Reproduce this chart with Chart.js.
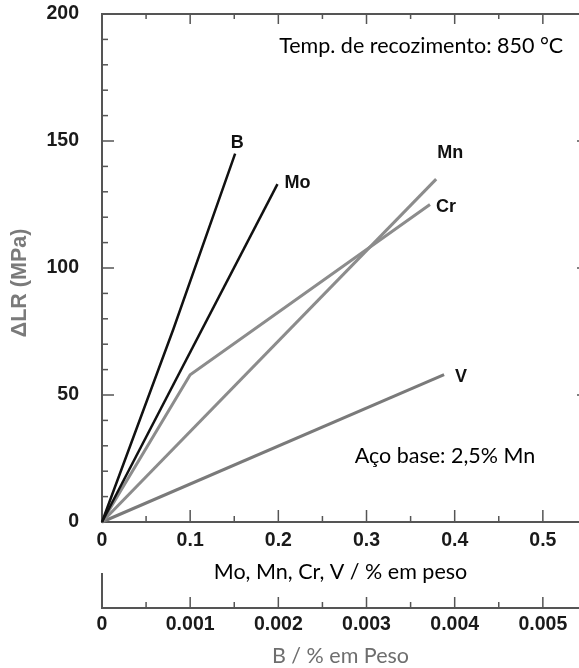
<!DOCTYPE html>
<html lang="pt">

<head>
    <meta charset="UTF-8" />
    <title>ΔLR vs teor de elemento</title>
    <script src="https://cdn.jsdelivr.net/npm/chart.js"></script>
    <style>
        html, body { margin: 0; padding: 0; background: #fff; }
        canvas { display: block; }
    </style>
</head>

<body>
    <canvas id="chart" width="579" height="668"></canvas>

    <script>
        // values
        const yTicks = [0, 50, 100, 150, 200];
        const xTicks = [0, 0.1, 0.2, 0.3, 0.4, 0.5];
        const bTicks = [0, 0.001, 0.002, 0.003, 0.004, 0.005];

        const bX = [0, 0.00081, 0.00151];
        const bY = [0, 76, 145];
        const moX = [0, 0.199];
        const moY = [0, 133];
        const mnX = [0, 0.379];
        const mnY = [0, 135];
        const crX = [0, 0.1, 0.372];
        const crY = [0, 58, 125];
        const vX = [0, 0.388];
        const vY = [0, 58];

        const tickFont = { family: 'Liberation Sans', size: 19.5, weight: 'bold' };
        const textFont = '21.5px Lato';
        const axisColor = '#555';

        const pts = (xs, ys) => xs.map((x, i) => ({ x: x, y: ys[i] }));

        // label offsets from the end of each line, in px
        const labelOffset = {
            B: [2, -11], Mo: [20, -1], Mn: [14, -26], Cr: [16, 3], V: [17, 2]
        };

        const noPadY = s => { s.paddingTop = 0; s.paddingBottom = 0; };
        const noPadX = s => { s.paddingLeft = 0; s.paddingRight = 0; };

        const framePlugin = {
            id: 'frame',
            beforeDatasetsDraw(chart) {
                const { ctx, chartArea: a, scales } = chart;
                const x = scales.x, y = scales.y, x2 = scales.x2;
                ctx.save();
                ctx.strokeStyle = axisColor;
                ctx.lineWidth = 2;
                // top border
                ctx.beginPath();
                ctx.moveTo(a.left, a.top);
                ctx.lineTo(chart.width, a.top);
                ctx.stroke();
                // small stub at the start of the lower axis
                ctx.beginPath();
                ctx.moveTo(a.left, x2.top);
                ctx.lineTo(a.left, x2.top - 35);
                ctx.stroke();

                ctx.lineWidth = 1.5;
                const line = (x0, y0, x1, y1) => {
                    ctx.beginPath(); ctx.moveTo(x0, y0); ctx.lineTo(x1, y1); ctx.stroke();
                };
                // y ticks, pointing inwards, minor every 10
                for (let v = 10; v < 200; v += 10) {
                    const p = y.getPixelForValue(v);
                    const len = v % 50 === 0 ? 12 : 6;
                    line(a.left, p, a.left + len, p);
                    if (v % 50 === 0) line(a.right, p, a.right - 2, p);
                }
                // x ticks on bottom and top, minor every 0.05
                for (let i = 1; i <= 10; i++) {
                    const p = x.getPixelForValue(i * 0.05);
                    const len = i % 2 === 0 ? 12 : 6;
                    line(p, a.bottom, p, a.bottom - len);
                    line(p, a.top, p, a.top + (i % 2 === 0 ? 10 : 5));
                }
                // B axis ticks
                for (let i = 1; i <= 10; i++) {
                    const p = x2.getPixelForValue(i * 0.0005);
                    const len = i % 2 === 0 ? 11 : 6;
                    line(p, x2.top, p, x2.top - len);
                }
                ctx.restore();
            },
            afterDatasetsDraw(chart) {
                const { ctx, scales } = chart;
                const x = scales.x, y = scales.y;
                ctx.save();
                ctx.textBaseline = 'middle';
                ctx.textAlign = 'center';
                ctx.fillStyle = '#111';
                ctx.font = 'bold 18px "Liberation Sans"';
                chart.data.datasets.forEach((ds, i) => {
                    const meta = chart.getDatasetMeta(i);
                    const last = meta.data[meta.data.length - 1];
                    const off = labelOffset[ds.label];
                    ctx.fillText(ds.label, last.x + off[0], last.y + off[1]);
                });
                ctx.font = textFont;
                ctx.fillStyle = '#000';
                ctx.fillText('Temp. de recozimento: 850 °C', x.getPixelForValue(0.362), y.getPixelForValue(187.5));
                ctx.fillText('Aço base: 2,5% Mn', x.getPixelForValue(0.389), y.getPixelForValue(26));
                ctx.restore();
            }
        };

        new Chart(document.getElementById('chart'), {
            type: 'line',
            data: {
                datasets: [
                    { label: 'B', data: pts(bX, bY), xAxisID: 'x2', borderColor: '#111', borderWidth: 2.5 },
                    { label: 'Mo', data: pts(moX, moY), borderColor: '#111', borderWidth: 2.5 },
                    { label: 'Mn', data: pts(mnX, mnY), borderColor: '#8c8c8c', borderWidth: 3 },
                    { label: 'Cr', data: pts(crX, crY), borderColor: '#8c8c8c', borderWidth: 3 },
                    { label: 'V', data: pts(vX, vY), borderColor: '#7a7a7a', borderWidth: 3 }
                ].map(d => Object.assign(d, { pointRadius: 0, tension: 0, fill: false, clip: false }))
            },
            options: {
                responsive: false,
                animation: false,
                devicePixelRatio: 1,
                layout: { padding: { top: 14, right: 0, left: 0, bottom: 0 } },
                plugins: { legend: { display: false }, tooltip: { enabled: false } },
                scales: {
                    y: {
                        type: 'linear',
                        position: 'left',
                        min: 0,
                        max: 200,
                        afterFit: s => { s.width = 102; noPadY(s); },
                        afterBuildTicks: s => { s.ticks = yTicks.map(v => ({ value: v })); },
                        grid: { display: false, drawTicks: false },
                        border: { display: true, color: axisColor, width: 2 },
                        ticks: { font: tickFont, color: '#1a1a1a', padding: 23, callback: v => String(v) },
                        title: {
                            display: true,
                            text: '\u0394LR (MPa)     ',
                            color: '#7a7a7a',
                            font: { family: 'Liberation Sans', size: 21.5, weight: 'bold' },
                            padding: { top: 7, bottom: 0 }
                        }
                    },
                    x: {
                        type: 'linear',
                        position: 'bottom',
                        min: 0,
                        max: 0.541,
                        weight: 0,
                        afterFit: s => { s.height = 86; noPadX(s); },
                        afterBuildTicks: s => { s.ticks = xTicks.map(v => ({ value: v })); },
                        grid: { display: false, drawTicks: false },
                        border: { display: true, color: axisColor, width: 2 },
                        ticks: { font: tickFont, color: '#1a1a1a', padding: 7, maxRotation: 0, callback: v => String(v) },
                        title: {
                            display: true,
                            text: 'Mo, Mn, Cr, V / % em peso',
                            color: '#000',
                            font: { family: 'Lato', size: 21.5 },
                            padding: { top: 0, bottom: 23 }
                        }
                    },
                    x2: {
                        type: 'linear',
                        position: 'bottom',
                        min: 0,
                        max: 0.00541,
                        weight: 1,
                        afterFit: s => { s.height = 60; noPadX(s); },
                        afterBuildTicks: s => { s.ticks = bTicks.map(v => ({ value: v })); },
                        grid: { display: false, drawTicks: false },
                        border: { display: true, color: axisColor, width: 2 },
                        ticks: { font: tickFont, color: '#1a1a1a', padding: 5, maxRotation: 0, callback: v => String(v) },
                        title: {
                            display: true,
                            text: 'B / % em Peso',
                            color: '#6e6e6e',
                            font: { family: 'Lato', size: 21.5 },
                            padding: { top: 0, bottom: -1 }
                        }
                    }
                }
            },
            plugins: [framePlugin]
        });
    </script>
</body>

</html>
